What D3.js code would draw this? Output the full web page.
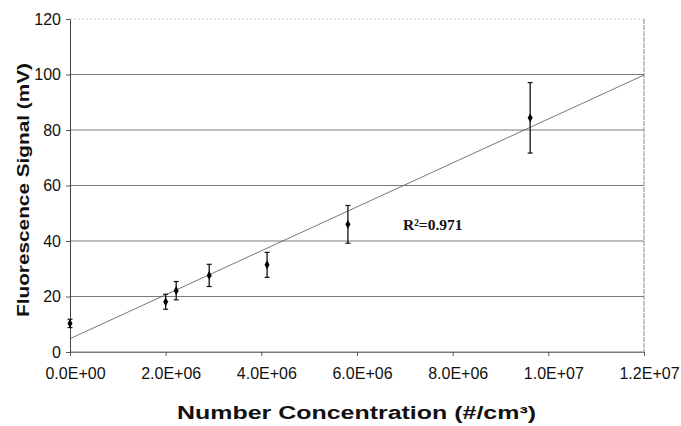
<!DOCTYPE html>
<html>
<head>
<meta charset="utf-8">
<script src="https://cdn.jsdelivr.net/npm/d3@7"></script>
<style>
    body { margin: 0; background: #fff; }
    svg { display: block; }
</style>
</head>
<body>
<div class="chart"></div>
<script>
// data
const concentration = [0, 2.0e6, 2.22e6, 2.91e6, 4.12e6, 5.81e6, 9.62e6];
const signal = [10.3, 18.1, 22.1, 27.6, 31.4, 46.0, 84.4];
const signalError = [1.5, 2.7, 3.3, 4.0, 4.5, 6.8, 12.7];

// linear fit line, end points
const fitX = [0, 1.2e7];
const fitY = [4.8, 99.8];
const fitLabel = 'R²=0.971';

const xTicks = [0, 2e6, 4e6, 6e6, 8e6, 1e7, 1.2e7];
const xTickLabels = ['0.0E+00', '2.0E+06', '4.0E+06', '6.0E+06', '8.0E+06', '1.0E+07', '1.2E+07'];
const yTicks = [0, 20, 40, 60, 80, 100, 120];

const points = concentration.map((c, i) => ({x: c, y: signal[i], err: signalError[i]}));

const svg_width = 681;
const svg_height = 426;
const margin = {top: 19, right: 37, bottom: 74, left: 70};
const width = svg_width - margin.left - margin.right;
const height = svg_height - margin.top - margin.bottom;

const svg = d3.select('.chart').append('svg')
    .attr('width', svg_width).attr('height', svg_height);
const g = svg.append('g').attr('transform', `translate(${margin.left},${margin.top})`);

const xScale = d3.scaleLinear().domain([0, 1.2e7]).range([0, width]);
const yScale = d3.scaleLinear().domain([0, 120]).range([height, 0]);

// gridlines
g.append('g').attr('class', 'grid')
    .selectAll('line').data(yTicks).enter().append('line')
    .attr('x1', 0).attr('x2', width)
    .attr('y1', d => yScale(d)).attr('y2', d => yScale(d))
    .style('stroke', d => d === 120 ? '#d0d0d0' : '#7a7a7a')
    .style('stroke-dasharray', d => d === 120 ? '2,2' : null)
    .style('stroke-width', 1);

// right border of plot area
g.append('line')
    .attr('x1', width).attr('x2', width)
    .attr('y1', 0).attr('y2', height)
    .style('stroke', '#8a8a8a').style('stroke-dasharray', '5,1');

// x axis
const xAxis = d3.axisBottom(xScale)
    .tickValues(xTicks)
    .tickFormat((d, i) => xTickLabels[i])
    .tickSizeInner(4).tickSizeOuter(0).tickPadding(12);
const xAxisDraw = g.append('g')
    .attr('class', 'x axis')
    .attr('transform', `translate(0,${height})`)
    .call(xAxis);
xAxisDraw.select('.domain').style('stroke', '#7a7a7a');
xAxisDraw.selectAll('.tick line').style('stroke', '#555');
xAxisDraw.selectAll('.tick text')
    .attr('dx', 5)
    .style('font-family', '"Liberation Sans", Arial, sans-serif')
    .style('font-size', '16px').style('fill', '#111');

// y axis
const yAxis = d3.axisLeft(yScale)
    .tickValues(yTicks)
    .tickSizeInner(4).tickSizeOuter(0).tickPadding(5);
const yAxisDraw = g.append('g')
    .attr('class', 'y axis')
    .call(yAxis);
yAxisDraw.select('.domain').style('stroke', '#444');
yAxisDraw.selectAll('.tick line').style('stroke', '#555');
yAxisDraw.selectAll('.tick text')
    .style('font-family', '"Liberation Sans", Arial, sans-serif')
    .style('font-size', '16px').style('fill', '#111');

// fit line
const lineGen = d3.line().x(d => xScale(d[0])).y(d => yScale(d[1]));
g.append('path')
    .attr('class', 'fit-line')
    .attr('d', lineGen(fitX.map((x, i) => [x, fitY[i]])))
    .style('fill', 'none').style('stroke', '#555').style('stroke-width', 0.8);

// error bars
const bars = g.append('g').attr('class', 'error-bars')
    .selectAll('g').data(points).enter().append('g');
bars.append('line')
    .attr('x1', d => xScale(d.x)).attr('x2', d => xScale(d.x))
    .attr('y1', d => yScale(d.y + d.err)).attr('y2', d => yScale(d.y - d.err))
    .style('stroke', '#111').style('stroke-width', 1.3);
bars.selectAll('.cap')
    .data(d => [{x: d.x, y: d.y + d.err}, {x: d.x, y: d.y - d.err}])
    .enter().append('line').attr('class', 'cap')
    .attr('x1', d => xScale(d.x) - 2.5).attr('x2', d => xScale(d.x) + 2.5)
    .attr('y1', d => yScale(d.y)).attr('y2', d => yScale(d.y))
    .style('stroke', '#111').style('stroke-width', 1.2);

// markers
g.append('g').attr('class', 'points')
    .selectAll('path').data(points).enter().append('path')
    .attr('d', d3.symbol().type(d3.symbolDiamond).size(22))
    .attr('transform', d => `translate(${xScale(d.x)},${yScale(d.y)})`)
    .style('fill', '#000');

// R² label
g.append('text')
    .attr('x', 333).attr('y', 211)
    .text(fitLabel)
    .style('font-family', '"Liberation Serif", "Times New Roman", serif')
    .style('font-weight', 'bold').style('font-size', '15.5px').style('fill', '#111');

// axis titles
svg.append('text')
    .attr('x', 177).attr('y', 419)
    .attr('textLength', 359).attr('lengthAdjust', 'spacingAndGlyphs')
    .style('font-family', '"Liberation Sans", Arial, sans-serif')
    .style('font-weight', 'bold').style('font-size', '17.5px').style('fill', '#111')
    .text('Number Concentration (#/cm³)');

svg.append('text')
    .attr('transform', 'translate(28.5,317) rotate(-90)')
    .attr('x', 0).attr('y', 0)
    .attr('textLength', 254).attr('lengthAdjust', 'spacingAndGlyphs')
    .style('font-family', '"Liberation Sans", Arial, sans-serif')
    .style('font-weight', 'bold').style('font-size', '17px').style('fill', '#111')
    .text('Fluorescence Signal (mV)');
</script>
</body>
</html>
